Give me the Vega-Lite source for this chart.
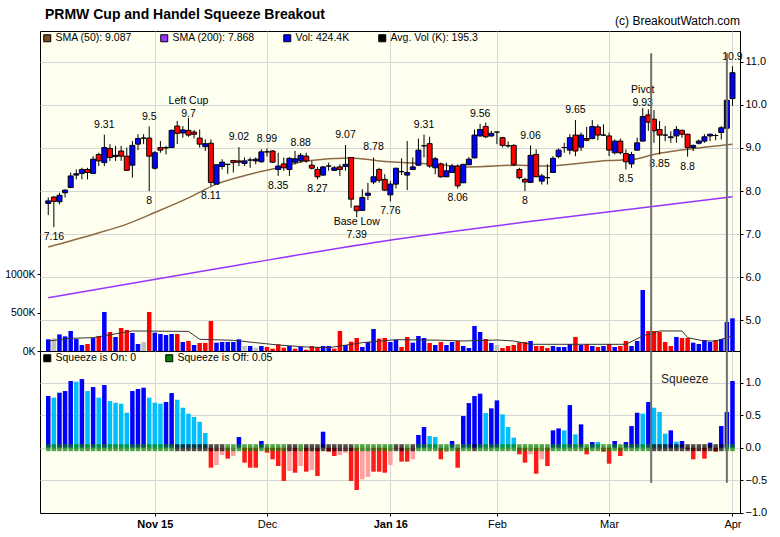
{
"$schema": "https://vega.github.io/schema/vega-lite/v6.json",
"padding": {"left": 4, "top": 7, "right": 4, "bottom": 4},
"background": "#ffffff",
"title": {"text": "PRMW Cup and Handel Squeeze Breakout", "anchor": "start", "frame": "group", "dx": 5, "offset": -7, "font": "Liberation Sans", "fontSize": 14, "fontWeight": "bold", "color": "#000000"},
"datasets": {
"ohlc": [
{"i":0,"o":7.71,"h":7.85,"l":7.44,"c":7.77,"v":152,"vd":"up"},
{"i":1,"o":7.86,"h":7.88,"l":7.16,"c":7.76,"v":164,"vd":"flat"},
{"i":2,"o":7.75,"h":7.96,"l":7.69,"c":7.90,"v":216,"vd":"up"},
{"i":3,"o":7.96,"h":8.04,"l":7.85,"c":8.02,"v":190,"vd":"up"},
{"i":4,"o":8.08,"h":8.43,"l":8.08,"c":8.35,"v":260,"vd":"up"},
{"i":5,"o":8.37,"h":8.50,"l":8.27,"c":8.40,"v":156,"vd":"up"},
{"i":6,"o":8.41,"h":8.54,"l":8.27,"c":8.50,"v":78,"vd":"up"},
{"i":7,"o":8.50,"h":8.54,"l":8.27,"c":8.43,"v":91,"vd":"down"},
{"i":8,"o":8.41,"h":8.81,"l":8.41,"c":8.74,"v":169,"vd":"up"},
{"i":9,"o":8.85,"h":8.89,"l":8.58,"c":8.70,"v":195,"vd":"down"},
{"i":10,"o":8.66,"h":9.31,"l":8.58,"c":9.01,"v":507,"vd":"up"},
{"i":11,"o":8.99,"h":9.09,"l":8.70,"c":8.78,"v":247,"vd":"down"},
{"i":12,"o":8.80,"h":9.05,"l":8.70,"c":8.83,"v":182,"vd":"up"},
{"i":13,"o":8.93,"h":9.05,"l":8.70,"c":8.81,"v":299,"vd":"down"},
{"i":14,"o":8.81,"h":9.01,"l":8.47,"c":8.48,"v":273,"vd":"down"},
{"i":15,"o":8.60,"h":9.16,"l":8.31,"c":9.06,"v":234,"vd":"up"},
{"i":16,"o":9.09,"h":9.32,"l":8.95,"c":9.22,"v":91,"vd":"up"},
{"i":17,"o":9.23,"h":9.32,"l":9.09,"c":9.23,"v":117,"vd":"flat"},
{"i":18,"o":9.23,"h":9.50,"l":8.00,"c":8.81,"v":507,"vd":"down"},
{"i":19,"o":8.53,"h":8.93,"l":8.50,"c":8.89,"v":238,"vd":"up"},
{"i":20,"o":9.01,"h":9.16,"l":8.89,"c":8.95,"v":221,"vd":"up"},
{"i":21,"o":9.00,"h":9.05,"l":8.85,"c":9.01,"v":208,"vd":"up"},
{"i":22,"o":9.01,"h":9.43,"l":9.01,"c":9.41,"v":221,"vd":"up"},
{"i":23,"o":9.51,"h":9.63,"l":9.09,"c":9.34,"v":221,"vd":"down"},
{"i":24,"o":9.35,"h":9.51,"l":9.24,"c":9.42,"v":117,"vd":"up"},
{"i":25,"o":9.41,"h":9.70,"l":9.26,"c":9.30,"v":130,"vd":"down"},
{"i":26,"o":9.37,"h":9.42,"l":9.22,"c":9.32,"v":78,"vd":"up"},
{"i":27,"o":9.23,"h":9.43,"l":9.01,"c":9.09,"v":104,"vd":"down"},
{"i":28,"o":9.03,"h":9.20,"l":8.93,"c":9.10,"v":104,"vd":"down"},
{"i":29,"o":9.11,"h":9.20,"l":8.11,"c":8.20,"v":390,"vd":"down"},
{"i":30,"o":8.16,"h":8.61,"l":8.16,"c":8.61,"v":108,"vd":"up"},
{"i":31,"o":8.57,"h":8.74,"l":8.50,"c":8.67,"v":117,"vd":"up"},
{"i":32,"o":8.62,"h":8.62,"l":8.40,"c":8.62,"v":117,"vd":"up"},
{"i":33,"o":8.71,"h":8.71,"l":8.43,"c":8.66,"v":117,"vd":"up"},
{"i":34,"o":8.70,"h":9.02,"l":8.58,"c":8.67,"v":152,"vd":"up"},
{"i":35,"o":8.64,"h":8.78,"l":8.58,"c":8.70,"v":65,"vd":"flat"},
{"i":36,"o":8.72,"h":8.78,"l":8.54,"c":8.72,"v":65,"vd":"up"},
{"i":37,"o":8.70,"h":8.78,"l":8.62,"c":8.74,"v":43,"vd":"flat"},
{"i":38,"o":8.68,"h":8.97,"l":8.66,"c":8.91,"v":65,"vd":"up"},
{"i":39,"o":8.91,"h":8.99,"l":8.80,"c":8.91,"v":52,"vd":"down"},
{"i":40,"o":8.93,"h":8.95,"l":8.65,"c":8.67,"v":30,"vd":"down"},
{"i":41,"o":8.50,"h":8.89,"l":8.35,"c":8.58,"v":87,"vd":"down"},
{"i":42,"o":8.63,"h":8.78,"l":8.47,"c":8.54,"v":43,"vd":"down"},
{"i":43,"o":8.50,"h":8.79,"l":8.35,"c":8.76,"v":65,"vd":"up"},
{"i":44,"o":8.67,"h":8.93,"l":8.62,"c":8.75,"v":30,"vd":"down"},
{"i":45,"o":8.70,"h":8.88,"l":8.66,"c":8.83,"v":52,"vd":"up"},
{"i":46,"o":8.81,"h":8.89,"l":8.66,"c":8.70,"v":17,"vd":"down"},
{"i":47,"o":8.60,"h":8.70,"l":8.50,"c":8.53,"v":65,"vd":"down"},
{"i":48,"o":8.50,"h":8.56,"l":8.27,"c":8.33,"v":52,"vd":"down"},
{"i":49,"o":8.37,"h":8.58,"l":8.35,"c":8.56,"v":65,"vd":"up"},
{"i":50,"o":8.58,"h":8.66,"l":8.47,"c":8.58,"v":65,"vd":"up"},
{"i":51,"o":8.48,"h":8.58,"l":8.48,"c":8.54,"v":30,"vd":"down"},
{"i":52,"o":8.56,"h":8.62,"l":8.35,"c":8.50,"v":260,"vd":"down"},
{"i":53,"o":8.57,"h":9.07,"l":8.47,"c":8.62,"v":78,"vd":"up"},
{"i":54,"o":8.78,"h":8.79,"l":7.61,"c":7.81,"v":121,"vd":"down"},
{"i":55,"o":7.65,"h":7.65,"l":7.39,"c":7.54,"v":169,"vd":"down"},
{"i":56,"o":7.55,"h":8.04,"l":7.55,"c":7.85,"v":52,"vd":"up"},
{"i":57,"o":7.90,"h":8.19,"l":7.79,"c":7.95,"v":117,"vd":"up"},
{"i":58,"o":8.21,"h":8.78,"l":8.16,"c":8.33,"v":286,"vd":"up"},
{"i":59,"o":8.50,"h":8.54,"l":8.19,"c":8.25,"v":160,"vd":"down"},
{"i":60,"o":8.27,"h":8.39,"l":8.00,"c":8.02,"v":169,"vd":"down"},
{"i":61,"o":7.91,"h":8.23,"l":7.76,"c":8.16,"v":117,"vd":"up"},
{"i":62,"o":8.16,"h":8.53,"l":8.06,"c":8.53,"v":143,"vd":"up"},
{"i":63,"o":8.45,"h":8.76,"l":8.37,"c":8.45,"v":52,"vd":"down"},
{"i":64,"o":8.37,"h":9.16,"l":8.02,"c":8.43,"v":182,"vd":"down"},
{"i":65,"o":8.50,"h":8.78,"l":8.50,"c":8.56,"v":108,"vd":"up"},
{"i":66,"o":8.60,"h":9.22,"l":8.58,"c":8.95,"v":195,"vd":"up"},
{"i":67,"o":9.05,"h":9.31,"l":8.78,"c":9.05,"v":169,"vd":"up"},
{"i":68,"o":9.10,"h":9.26,"l":8.54,"c":8.58,"v":104,"vd":"down"},
{"i":69,"o":8.54,"h":8.79,"l":8.39,"c":8.75,"v":78,"vd":"up"},
{"i":70,"o":8.63,"h":8.66,"l":8.31,"c":8.33,"v":117,"vd":"down"},
{"i":71,"o":8.33,"h":8.66,"l":8.33,"c":8.47,"v":78,"vd":"up"},
{"i":72,"o":8.43,"h":8.63,"l":8.43,"c":8.58,"v":117,"vd":"up"},
{"i":73,"o":8.58,"h":8.62,"l":8.06,"c":8.12,"v":130,"vd":"down"},
{"i":74,"o":8.19,"h":8.63,"l":8.19,"c":8.62,"v":65,"vd":"up"},
{"i":75,"o":8.61,"h":8.79,"l":8.61,"c":8.74,"v":39,"vd":"up"},
{"i":76,"o":8.77,"h":9.43,"l":8.76,"c":9.30,"v":325,"vd":"up"},
{"i":77,"o":9.28,"h":9.56,"l":9.26,"c":9.43,"v":247,"vd":"up"},
{"i":78,"o":9.50,"h":9.59,"l":9.23,"c":9.26,"v":156,"vd":"down"},
{"i":79,"o":9.28,"h":9.40,"l":9.26,"c":9.34,"v":104,"vd":"up"},
{"i":80,"o":9.37,"h":9.37,"l":9.09,"c":9.37,"v":78,"vd":"flat"},
{"i":81,"o":9.24,"h":9.26,"l":9.01,"c":9.06,"v":39,"vd":"down"},
{"i":82,"o":9.05,"h":9.15,"l":9.01,"c":9.05,"v":65,"vd":"down"},
{"i":83,"o":9.06,"h":9.09,"l":8.58,"c":8.61,"v":78,"vd":"down"},
{"i":84,"o":8.50,"h":8.54,"l":8.27,"c":8.31,"v":113,"vd":"down"},
{"i":85,"o":8.27,"h":8.31,"l":8.00,"c":8.21,"v":117,"vd":"down"},
{"i":86,"o":8.20,"h":9.06,"l":8.20,"c":8.83,"v":130,"vd":"up"},
{"i":87,"o":8.85,"h":8.97,"l":8.33,"c":8.33,"v":65,"vd":"down"},
{"i":88,"o":8.23,"h":8.40,"l":8.15,"c":8.35,"v":65,"vd":"down"},
{"i":89,"o":8.31,"h":8.62,"l":8.15,"c":8.31,"v":39,"vd":"down"},
{"i":90,"o":8.43,"h":8.81,"l":8.43,"c":8.76,"v":65,"vd":"up"},
{"i":91,"o":8.80,"h":8.99,"l":8.76,"c":8.95,"v":52,"vd":"up"},
{"i":92,"o":9.01,"h":9.12,"l":8.89,"c":9.01,"v":52,"vd":"up"},
{"i":93,"o":8.95,"h":9.32,"l":8.85,"c":9.24,"v":91,"vd":"up"},
{"i":94,"o":9.30,"h":9.65,"l":8.81,"c":8.93,"v":182,"vd":"down"},
{"i":95,"o":9.02,"h":9.36,"l":8.93,"c":9.30,"v":78,"vd":"up"},
{"i":96,"o":9.22,"h":9.49,"l":9.16,"c":9.18,"v":91,"vd":"down"},
{"i":97,"o":9.22,"h":9.65,"l":9.20,"c":9.50,"v":65,"vd":"up"},
{"i":98,"o":9.49,"h":9.55,"l":9.18,"c":9.30,"v":52,"vd":"down"},
{"i":99,"o":9.30,"h":9.55,"l":9.28,"c":9.30,"v":65,"vd":"up"},
{"i":100,"o":9.28,"h":9.36,"l":8.81,"c":8.95,"v":91,"vd":"down"},
{"i":101,"o":8.89,"h":9.20,"l":8.85,"c":9.16,"v":52,"vd":"up"},
{"i":102,"o":9.16,"h":9.22,"l":8.85,"c":8.89,"v":65,"vd":"down"},
{"i":103,"o":8.87,"h":8.97,"l":8.50,"c":8.68,"v":130,"vd":"down"},
{"i":104,"o":8.63,"h":8.91,"l":8.54,"c":8.85,"v":65,"vd":"up"},
{"i":105,"o":8.95,"h":9.24,"l":8.93,"c":9.12,"v":130,"vd":"up"},
{"i":106,"o":9.16,"h":9.93,"l":9.16,"c":9.73,"v":792,"vd":"up"},
{"i":107,"o":9.77,"h":9.90,"l":9.40,"c":9.60,"v":260,"vd":"down"},
{"i":108,"o":9.67,"h":9.88,"l":9.12,"c":9.40,"v":260,"vd":"down"},
{"i":109,"o":9.43,"h":9.63,"l":8.85,"c":9.30,"v":247,"vd":"down"},
{"i":110,"o":9.30,"h":9.51,"l":9.16,"c":9.30,"v":117,"vd":"down"},
{"i":111,"o":9.24,"h":9.39,"l":9.12,"c":9.26,"v":65,"vd":"down"},
{"i":112,"o":9.28,"h":9.51,"l":9.12,"c":9.43,"v":182,"vd":"up"},
{"i":113,"o":9.41,"h":9.43,"l":9.24,"c":9.32,"v":169,"vd":"down"},
{"i":114,"o":9.32,"h":9.33,"l":8.80,"c":9.01,"v":169,"vd":"down"},
{"i":115,"o":9.01,"h":9.08,"l":8.93,"c":9.06,"v":108,"vd":"up"},
{"i":116,"o":9.11,"h":9.20,"l":9.08,"c":9.16,"v":91,"vd":"up"},
{"i":117,"o":9.16,"h":9.32,"l":9.12,"c":9.26,"v":143,"vd":"up"},
{"i":118,"o":9.28,"h":9.33,"l":9.16,"c":9.32,"v":117,"vd":"up"},
{"i":119,"o":9.29,"h":9.33,"l":9.18,"c":9.29,"v":143,"vd":"down"},
{"i":120,"o":9.36,"h":9.51,"l":9.20,"c":9.47,"v":156,"vd":"up"},
{"i":121,"o":9.46,"h":10.17,"l":9.46,"c":10.11,"v":377,"vd":"up"},
{"i":122,"o":10.15,"h":10.90,"l":9.98,"c":10.75,"v":424.4,"vd":"up"}
],
"sma50": [
{"i":0,"p":6.70},{"i":8,"p":6.99},{"i":14,"p":7.23},{"i":19,"p":7.50},{"i":25,"p":7.84},{"i":30,"p":8.16},{"i":36,"p":8.39},{"i":41,"p":8.54},{"i":46,"p":8.70},{"i":54,"p":8.77},{"i":59,"p":8.70},{"i":69,"p":8.62},{"i":75,"p":8.56},{"i":84,"p":8.60},{"i":88,"p":8.58},{"i":100,"p":8.71},{"i":104,"p":8.73},{"i":108,"p":8.85},{"i":114,"p":8.97},{"i":122,"p":9.087}
],
"sma200": [
{"i":0,"p":5.52},{"i":30,"p":6.19},{"i":60,"p":6.84},{"i":84,"p":7.26},{"i":122,"p":7.868}
],
"avgvol": [
{"i":0,"v":130},{"i":4,"v":165},{"i":8,"v":173},{"i":15,"v":260},{"i":25,"v":255},{"i":27,"v":152},{"i":33,"v":139},{"i":37,"v":108},{"i":41,"v":78},{"i":46,"v":52},{"i":50,"v":43},{"i":56,"v":108},{"i":62,"v":147},{"i":70,"v":140},{"i":74,"v":130},{"i":80,"v":143},{"i":83,"v":130},{"i":86,"v":87},{"i":103,"v":87},{"i":106,"v":195},{"i":109,"v":260},{"i":113,"v":260},{"i":114,"v":173},{"i":117,"v":130},{"i":119,"v":130},{"i":122,"v":195.3}
],
"hi": [
{"i":10,"p":9.33,"t":"9.31"},{"i":18,"p":9.51,"t":"9.5"},{"i":34,"p":9.04,"t":"9.02"},{"i":39,"p":8.99,"t":"8.99"},{"i":45,"p":8.91,"t":"8.88"},{"i":53,"p":9.09,"t":"9.07"},{"i":58,"p":8.81,"t":"8.78"},{"i":67,"p":9.32,"t":"9.31"},{"i":77,"p":9.59,"t":"9.56"},{"i":86,"p":9.08,"t":"9.06"},{"i":94,"p":9.67,"t":"9.65"},{"i":122,"p":10.91,"t":"10.9"}
],
"hi2": [
{"i":25,"p":9.72,"t":"Left Cup\n9.7"},{"i":106,"p":9.97,"t":"Pivot\n9.93"}
],
"lo": [
{"i":1,"p":7.16,"t":"7.16"},{"i":18,"p":8.0,"t":"8"},{"i":29,"p":8.11,"t":"8.11"},{"i":41,"p":8.35,"t":"8.35"},{"i":48,"p":8.27,"t":"8.27"},{"i":61,"p":7.76,"t":"7.76"},{"i":73,"p":8.06,"t":"8.06"},{"i":85,"p":8.0,"t":"8"},{"i":103,"p":8.5,"t":"8.5"},{"i":109,"p":8.85,"t":"8.85"},{"i":114,"p":8.8,"t":"8.8"}
],
"lo2": [
{"i":55,"p":7.39,"t":"Base Low\n7.39"}
],
"sqz": [{"i":107.5},{"i":121}],
"legend": [{"s":"SMA (50): 9.087"},{"s":"SMA (200): 7.868"},{"s":"Vol: 424.4K"},{"s":"Avg. Vol (K): 195.3"}],
"sq": [
{"i":0,"m":0.795,"k":"pu","s":"off"},{"i":1,"m":0.77,"k":"pd","s":"off"},{"i":2,"m":0.846,"k":"pu","s":"off"},{"i":3,"m":0.872,"k":"pu","s":"off"},{"i":4,"m":1.026,"k":"pu","s":"off"},{"i":5,"m":1.015,"k":"pd","s":"off"},{"i":6,"m":1.056,"k":"pu","s":"off"},{"i":7,"m":0.872,"k":"pd","s":"off"},{"i":8,"m":0.933,"k":"pu","s":"off"},{"i":9,"m":0.77,"k":"pd","s":"off"},
{"i":10,"m":0.964,"k":"pu","s":"off"},{"i":11,"m":0.718,"k":"pd","s":"off"},{"i":12,"m":0.692,"k":"pd","s":"off"},{"i":13,"m":0.677,"k":"pd","s":"off"},{"i":14,"m":0.538,"k":"pd","s":"off"},{"i":15,"m":0.872,"k":"pu","s":"off"},{"i":16,"m":0.903,"k":"pu","s":"off"},{"i":17,"m":0.923,"k":"pu","s":"off"},{"i":18,"m":0.77,"k":"pd","s":"off"},{"i":19,"m":0.692,"k":"pd","s":"off"},
{"i":20,"m":0.677,"k":"pd","s":"off"},{"i":21,"m":0.703,"k":"pu","s":"off"},{"i":22,"m":0.841,"k":"pu","s":"off"},{"i":23,"m":0.738,"k":"pd","s":"on"},{"i":24,"m":0.615,"k":"pd","s":"on"},{"i":25,"m":0.523,"k":"pd","s":"on"},{"i":26,"m":0.472,"k":"pd","s":"on"},{"i":27,"m":0.4,"k":"pd","s":"on"},{"i":28,"m":0.226,"k":"pd","s":"on"},{"i":29,"m":-0.308,"k":"nd","s":"on"},
{"i":30,"m":-0.267,"k":"nu","s":"on"},{"i":31,"m":-0.113,"k":"nu","s":"on"},{"i":32,"m":-0.169,"k":"nd","s":"off"},{"i":33,"m":-0.128,"k":"nu","s":"off"},{"i":34,"m":0.164,"k":"pu","s":"off"},{"i":35,"m":-0.231,"k":"nd","s":"off"},{"i":36,"m":-0.308,"k":"nd","s":"off"},{"i":37,"m":-0.308,"k":"nd","s":"off"},{"i":38,"m":0.103,"k":"pu","s":"off"},{"i":39,"m":-0.077,"k":"nd","s":"off"},
{"i":40,"m":-0.179,"k":"nd","s":"off"},{"i":41,"m":-0.282,"k":"nd","s":"off"},{"i":42,"m":-0.513,"k":"nd","s":"off"},{"i":43,"m":-0.359,"k":"nu","s":"on"},{"i":44,"m":-0.385,"k":"nd","s":"on"},{"i":45,"m":-0.282,"k":"nu","s":"off"},{"i":46,"m":-0.369,"k":"nd","s":"on"},{"i":47,"m":-0.344,"k":"nu","s":"on"},{"i":48,"m":-0.436,"k":"nd","s":"on"},{"i":49,"m":0.246,"k":"pu","s":"on"},
{"i":50,"m":-0.062,"k":"nd","s":"on"},{"i":51,"m":-0.128,"k":"nd","s":"on"},{"i":52,"m":-0.113,"k":"nu","s":"on"},{"i":53,"m":-0.077,"k":"nu","s":"on"},{"i":54,"m":-0.513,"k":"nd","s":"on"},{"i":55,"m":-0.651,"k":"nd","s":"off"},{"i":56,"m":-0.487,"k":"nu","s":"off"},{"i":57,"m":-0.451,"k":"nu","s":"off"},{"i":58,"m":-0.369,"k":"nd","s":"off"},{"i":59,"m":-0.369,"k":"nd","s":"off"},
{"i":60,"m":-0.385,"k":"nd","s":"off"},{"i":61,"m":-0.267,"k":"nu","s":"off"},{"i":62,"m":-0.02,"k":"nu","s":"on"},{"i":63,"m":-0.215,"k":"nd","s":"on"},{"i":64,"m":-0.215,"k":"nd","s":"off"},{"i":65,"m":-0.179,"k":"nu","s":"on"},{"i":66,"m":0.195,"k":"pu","s":"off"},{"i":67,"m":0.318,"k":"pu","s":"off"},{"i":68,"m":0.18,"k":"pd","s":"off"},{"i":69,"m":0.164,"k":"pd","s":"off"},
{"i":70,"m":-0.179,"k":"nd","s":"off"},{"i":71,"m":-0.067,"k":"nu","s":"off"},{"i":72,"m":0.103,"k":"pu","s":"off"},{"i":73,"m":-0.308,"k":"nd","s":"off"},{"i":74,"m":0.487,"k":"pu","s":"off"},{"i":75,"m":0.687,"k":"pu","s":"off"},{"i":76,"m":0.795,"k":"pu","s":"on"},{"i":77,"m":0.831,"k":"pu","s":"off"},{"i":78,"m":0.533,"k":"pd","s":"off"},{"i":79,"m":0.605,"k":"pu","s":"off"},
{"i":80,"m":0.728,"k":"pu","s":"off"},{"i":81,"m":0.513,"k":"pd","s":"off"},{"i":82,"m":0.318,"k":"pd","s":"off"},{"i":83,"m":0.154,"k":"pd","s":"off"},{"i":84,"m":-0.103,"k":"nd","s":"off"},{"i":85,"m":-0.231,"k":"nd","s":"off"},{"i":86,"m":-0.103,"k":"nu","s":"off"},{"i":87,"m":-0.4,"k":"nd","s":"off"},{"i":88,"m":-0.179,"k":"nu","s":"off"},{"i":89,"m":-0.282,"k":"nd","s":"off"},
{"i":90,"m":0.267,"k":"pu","s":"off"},{"i":91,"m":0.297,"k":"pu","s":"off"},{"i":92,"m":0.267,"k":"pd","s":"off"},{"i":93,"m":0.656,"k":"pu","s":"off"},{"i":94,"m":0.205,"k":"pd","s":"off"},{"i":95,"m":0.359,"k":"pu","s":"off"},{"i":96,"m":-0.103,"k":"nd","s":"off"},{"i":97,"m":0.087,"k":"pu","s":"off"},{"i":98,"m":0.087,"k":"pd","s":"off"},{"i":99,"m":-0.062,"k":"nd","s":"off"},
{"i":100,"m":-0.246,"k":"nd","s":"off"},{"i":101,"m":0.103,"k":"pu","s":"off"},{"i":102,"m":-0.128,"k":"nd","s":"off"},{"i":103,"m":0.087,"k":"pu","s":"off"},{"i":104,"m":0.333,"k":"pu","s":"off"},{"i":105,"m":0.538,"k":"pu","s":"off"},{"i":106,"m":0.523,"k":"pd","s":"off"},{"i":107,"m":0.703,"k":"pu","s":"off"},{"i":108,"m":0.615,"k":"pd","s":"on"},{"i":109,"m":0.549,"k":"pd","s":"on"},
{"i":110,"m":0.215,"k":"pd","s":"on"},{"i":111,"m":0.267,"k":"pu","s":"on"},{"i":112,"m":0.092,"k":"pd","s":"on"},{"i":113,"m":0.103,"k":"pu","s":"on"},{"i":114,"m":-0.02,"k":"nd","s":"on"},{"i":115,"m":-0.179,"k":"nd","s":"on"},{"i":116,"m":-0.05,"k":"nu","s":"on"},{"i":117,"m":-0.169,"k":"nd","s":"on"},{"i":118,"m":0.077,"k":"pu","s":"on"},{"i":119,"m":-0.062,"k":"nd","s":"on"},
{"i":120,"m":0.333,"k":"pu","s":"on"},{"i":121,"m":0.549,"k":"pu","s":"off"},{"i":122,"m":1.026,"k":"pu","s":"off"}
]
},
"spacing": 0,
"bounds": "flush",
"resolve": {"scale": {"color": "independent", "fill": "independent"}, "legend": {"color": "independent", "fill": "independent"}},
"vconcat": [
{
"width": 700, "height": 320,
"title": {"text": "(c) BreakoutWatch.com", "anchor": "end", "frame": "group", "offset": 0, "font": "Liberation Sans", "fontSize": 12, "fontWeight": "normal", "color": "#000000"},
"encoding": {"x": {"field": "i", "type": "quantitative", "scale": {"domain": [-0.58, 122.45], "nice": false, "zero": false}, "axis": {"orient": "bottom", "title": null, "labels": false, "ticks": false, "domain": false, "grid": true, "values": [19, 39, 61, 80, 100, 122]}}},
"layer": [
{"layer": [
{"data": {"name": "ohlc"}, "mark": {"type": "bar", "size": 4.5},
 "encoding": {"y": {"field": "v", "type": "quantitative", "scale": {"domain": [0, 4156], "nice": false, "zero": true}, "axis": {"orient": "left", "values": [0, 500, 1000], "labelExpr": "datum.value + 'K'", "grid": false, "title": null, "domain": false, "labelFontSize": 10.5}},
  "fill": {"field": "vd", "type": "nominal", "scale": {"domain": ["up", "down", "flat"], "range": ["#0000ff", "#ff0000", "#c0c0c0"]}, "legend": null}}},
{"data": {"name": "avgvol"}, "mark": {"type": "line", "stroke": "#333333", "strokeWidth": 1},
 "encoding": {"y": {"field": "v", "type": "quantitative"}}}
]},
{"layer": [
{"data": {"values": [{}]}, "mark": {"type": "rect", "fill": "#e6e6f8"},
 "encoding": {"x": {"datum": -0.58}, "x2": {"datum": 122.45}, "y": {"datum": 11.37, "type": "quantitative", "scale": {"domain": [4.28, 11.72], "nice": false, "zero": false}}, "y2": {"datum": 11.72}}},
{"data": {"name": "sma200"}, "mark": {"type": "line", "stroke": "#9933ff", "strokeWidth": 1.5, "interpolate": "monotone"},
 "encoding": {"y": {"field": "p", "type": "quantitative", "scale": {"domain": [4.28, 11.72], "nice": false, "zero": false}, "axis": {"orient": "right", "values": [5, 5.5, 6, 6.5, 7, 7.5, 8, 8.5, 9, 9.5, 10, 10.5, 11], "format": ".1f", "title": null, "grid": true}}}},
{"data": {"name": "sma50"}, "mark": {"type": "line", "stroke": "#8b6a45", "strokeWidth": 1.5, "interpolate": "monotone"},
 "encoding": {"y": {"field": "p", "type": "quantitative"}}},
{"data": {"name": "ohlc"}, "mark": {"type": "rule", "stroke": "#000000", "strokeWidth": 1},
 "encoding": {"y": {"field": "l", "type": "quantitative"}, "y2": {"field": "h"}}},
{"data": {"name": "ohlc"}, "mark": {"type": "bar", "size": 5, "stroke": "#000000", "strokeWidth": 1},
 "encoding": {"y": {"field": "o", "type": "quantitative"}, "y2": {"field": "c"},
  "fill": {"condition": {"test": "datum.c >= datum.o", "value": "#0000ff"}, "value": "#ff0000"}}},
{"data": {"name": "hi"}, "mark": {"type": "text", "baseline": "bottom", "dy": -4, "fontSize": 10.5, "color": "#000000", "font": "Liberation Sans"},
 "encoding": {"y": {"field": "p", "type": "quantitative"}, "text": {"field": "t", "type": "nominal"}}},
{"data": {"name": "hi2"}, "mark": {"type": "text", "baseline": "bottom", "dy": -11, "fontSize": 10.5, "lineBreak": "\n", "color": "#000000", "font": "Liberation Sans"},
 "encoding": {"y": {"field": "p", "type": "quantitative"}, "text": {"field": "t", "type": "nominal"}}},
{"data": {"name": "lo"}, "mark": {"type": "text", "baseline": "top", "dy": 5, "fontSize": 10.5, "color": "#000000", "font": "Liberation Sans"},
 "encoding": {"y": {"field": "p", "type": "quantitative"}, "text": {"field": "t", "type": "nominal"}}},
{"data": {"name": "lo2"}, "mark": {"type": "text", "baseline": "top", "dy": 0, "fontSize": 10.5, "lineBreak": "\n", "color": "#000000", "font": "Liberation Sans"},
 "encoding": {"y": {"field": "p", "type": "quantitative"}, "text": {"field": "t", "type": "nominal"}}},
{"data": {"name": "sqz"}, "mark": {"type": "rule", "stroke": "#6e6e6e", "strokeWidth": 2},
 "encoding": {"y": {"datum": 11.2}, "y2": {"datum": 4.28}}},
{"data": {"name": "legend"}, "mark": {"type": "square", "opacity": 0},
 "encoding": {"x": {"value": 0}, "y": {"value": 0},
  "color": {"field": "s", "type": "nominal", "scale": {"domain": ["SMA (50): 9.087", "SMA (200): 7.868", "Vol: 424.4K", "Avg. Vol (K): 195.3"], "range": ["#7a4a21", "#9933ff", "#0000ff", "#000000"]}, "legend": {"orient": "top-left", "direction": "horizontal", "title": null}}}}
]}
],
"resolve": {"scale": {"y": "independent"}, "axis": {"y": "independent"}}
},
{
"width": 700, "height": 162,
"encoding": {"x": {"field": "i", "type": "quantitative", "scale": {"domain": [-0.58, 122.45], "nice": false, "zero": false},
 "axis": {"orient": "bottom", "title": null, "values": [19, 39, 61, 80, 100, 122], "grid": true, "labelFlush": false, "labelOverlap": false,
  "labelExpr": "datum.value == 19 ? 'Nov 15' : datum.value == 39 ? 'Dec' : datum.value == 61 ? 'Jan 16' : datum.value == 80 ? 'Feb' : datum.value == 100 ? 'Mar' : 'Apr'",
  "labelFontWeight": {"condition": {"test": "datum.value == 19 || datum.value == 61", "value": "bold"}, "value": "normal"}}}},
"layer": [
{"data": {"values": [{}]}, "mark": {"type": "rect", "fill": "#e6e6f8"},
 "encoding": {"x": {"datum": -0.58}, "x2": {"datum": 122.45}, "y": {"datum": 1.303, "type": "quantitative", "scale": {"domain": [-1.005, 1.488], "nice": false, "zero": false}}, "y2": {"datum": 1.488}}},
{"data": {"name": "sq"}, "mark": {"type": "bar", "size": 4.5},
 "encoding": {"y": {"field": "m", "type": "quantitative", "scale": {"domain": [-1.005, 1.488], "nice": false, "zero": false}, "axis": {"orient": "right", "values": [-1, -0.5, 0, 0.5, 1], "format": ".1f", "title": null, "grid": true}}, "y2": {"datum": 0},
  "fill": {"field": "k", "type": "nominal", "scale": {"domain": ["pu", "pd", "nd", "nu"], "range": ["#0000ff", "#00bfff", "#ff1a1a", "#ff9f9f"]}, "legend": null}}},
{"data": {"name": "sq"}, "mark": {"type": "tick", "orient": "vertical", "size": 7, "thickness": 4.5},
 "encoding": {"y": {"datum": 0},
  "color": {"field": "s", "type": "nominal", "scale": {"domain": ["on", "off"], "range": ["#000000", "#008000"]},
   "legend": {"orient": "top-left", "direction": "horizontal", "title": null, "labelExpr": "datum.label == 'on' ? 'Squeeze is On: 0' : 'Squeeze is Off: 0.05'"}}}},
{"data": {"name": "sqz"}, "mark": {"type": "rule", "stroke": "#6e6e6e", "strokeWidth": 2},
 "encoding": {"y": {"datum": 1.488}, "y2": {"datum": -0.54}}},
{"data": {"values": [{"i": 113.5, "m": 1.06, "t": "Squeeze"}]}, "mark": {"type": "text", "fontSize": 12, "color": "#222222", "font": "Liberation Sans"},
 "encoding": {"y": {"field": "m", "type": "quantitative"}, "text": {"field": "t", "type": "nominal"}}}
]
}
],
"config": {
 "view": {"fill": "#fffff0", "stroke": "#000000", "strokeWidth": 1},
 "axis": {"labelFont": "Liberation Sans", "labelFontSize": 11, "labelColor": "#000000", "domainColor": "#000000", "tickColor": "#000000", "gridColor": "#d6d6d6", "tickSize": 3, "labelPadding": 2},
 "legend": {"offset": 2, "padding": 0, "symbolType": "square", "symbolSize": 49, "symbolStrokeColor": "#000000", "symbolStrokeWidth": 1, "symbolOpacity": 1, "labelFont": "Liberation Sans", "labelFontSize": 10.5, "labelColor": "#000000", "labelOffset": 3, "columnPadding": 26, "gridAlign": "none"}
}
}
